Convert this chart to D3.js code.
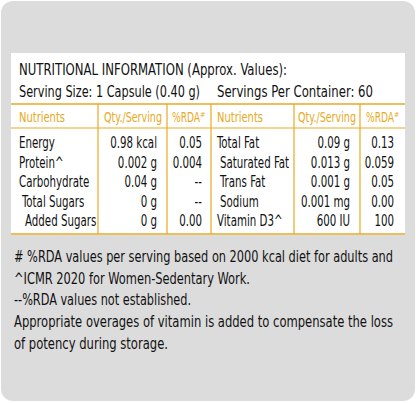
<!DOCTYPE html><html><head><meta charset="utf-8"><script src="https://cdn.jsdelivr.net/npm/d3@7"></script>
<style>body{margin:0;background:#fff}text{font-family:"Liberation Sans Narrow","DejaVu Sans Condensed",sans-serif}</style></head><body>
<script>
const title = "NUTRITIONAL INFORMATION (Approx. Values):";
const servingSize = "Serving Size: 1 Capsule (0.40 g)";
const servingsPer = "Servings Per Container: 60";
const headers = ["Nutrients","Qty./Serving","%RDA#","Nutrients","Qty./Serving","%RDA#"];
const leftNutrients = ["Energy","Protein^","Carbohydrate"," Total Sugars","  Added Sugars"];
const leftQty = ["0.98 kcal","0.002 g","0.04 g","0 g","0 g"];
const leftRda = ["0.05","0.004","--","--","0.00"];
const rightNutrients = ["Total Fat"," Saturated Fat"," Trans Fat"," Sodium","Vitamin D3^"];
const rightQty = ["0.09 g","0.013 g","0.001 g","0.001 mg","600 IU"];
const rightRda = ["0.13","0.059","0.05","0.00","100"];
const footnotes = ["# %RDA values per serving based on 2000 kcal diet for adults and","^ICMR 2020 for Women-Sedentary Work.","--%RDA values not established.","Appropriate overages of vitamin is added to compensate the loss","of potency during storage."];

const W=416,H=403, orange="#e8a922";
const svg=d3.select("body").append("svg").attr("width",W).attr("height",H);
svg.append("rect").attr("x",1).attr("y",1).attr("width",W-2).attr("height",H-3).attr("rx",12).attr("fill","#dcdcdc");
svg.append("rect").attr("x",11).attr("y",53).attr("width",394).attr("height",182).attr("fill","#fff");

function fit(sel,w){sel.attr("textLength",w).attr("lengthAdjust","spacingAndGlyphs");}
function cond(sel,k){sel.each(function(){const l=this.getComputedTextLength();d3.select(this).attr("textLength",l*k).attr("lengthAdjust","spacingAndGlyphs");});}
svg.append("text").attr("x",19).attr("y",75).attr("font-size",16.5).attr("fill","#111").text(title).call(fit,268);
svg.append("text").attr("x",19).attr("y",97).attr("font-size",16.5).attr("fill","#111").text(servingSize).call(fit,181);
svg.append("text").attr("x",217).attr("y",97).attr("font-size",16.5).attr("fill","#111").text(servingsPer).call(fit,156);

const lines=[104,128,234];
lines.forEach((y,i)=>svg.append("line").attr("x1",11).attr("x2",405).attr("y1",y).attr("y2",y).attr("stroke",orange).attr("stroke-width",i==1?1.2:1.6));
[98,167,211,294,360].forEach(x=>svg.append("line").attr("x1",x).attr("x2",x).attr("y1",104).attr("y2",234).attr("stroke",orange).attr("stroke-width",1.2));

const hx=[19,104,172,217,298,366], hw=[46,58,0,46,58,0];
headers.forEach((h,i)=>{const t=svg.append("text").attr("x",hx[i]).attr("y",122).attr("font-size",14.5).attr("fill",orange);
  if(h.endsWith("#")){t.append("tspan").attr("textLength",28).attr("lengthAdjust","spacingAndGlyphs").text(h.slice(0,-1));t.append("tspan").attr("font-size",7).attr("dy",-5).text("#");}
  else t.text(h).call(fit,hw[i]);});

const row=d3.scaleLinear().domain([0,4]).range([148,226]);
function col(arr,x,anchor,indent){arr.forEach((s,i)=>{const sp=s.length-s.trimStart().length;
  svg.append("text").attr("x",x+(indent?sp*3:0)).attr("y",row(i)).attr("font-size",15).attr("fill","#111").attr("text-anchor",anchor).text(s.trim()).call(cond,0.76);});}
col(leftNutrients,19,"start",true);col(leftQty,157,"end");col(leftRda,202,"end");
col(rightNutrients,217,"start",true);col(rightQty,350,"end");col(rightRda,394,"end");

const fw=[379,236,177,379,154];
footnotes.forEach((f,i)=>svg.append("text").attr("x",14).attr("y",262+i*21.7).attr("font-size",16).attr("fill","#111").text(f).call(fit,fw[i]));
</script></body></html>
